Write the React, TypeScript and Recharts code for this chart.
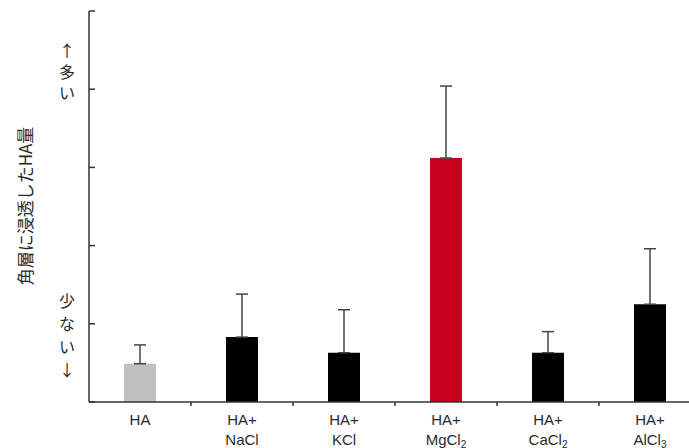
import React from 'react';
import { BarChart, Bar, XAxis, YAxis, ErrorBar, Cell } from 'recharts';

const labelTop = ['HA', 'HA+', 'HA+', 'HA+', 'HA+', 'HA+'];
const labelSalt = ['', 'NaCl', 'KCl', 'MgCl', 'CaCl', 'AlCl'];
const labelSub = ['', '', '', '2', '2', '3'];
const values = [0.49, 0.83, 0.63, 3.12, 0.63, 1.25];
const errors = [0.24, 0.55, 0.55, 0.92, 0.27, 0.71];
const colors = ['#c0c0c0', '#000000', '#000000', '#c8001e', '#000000', '#000000'];
const yTicks = [0, 1, 2, 3, 4, 5];

const data = values.map((v, i) => ({
  name: `${labelTop[i]}${labelSalt[i]}`,
  value: v,
  err: [0, errors[i]],
}));

const FONT = '"Liberation Sans", Arial, "Noto Sans CJK JP", sans-serif';
const JP = '"Noto Sans CJK JP", sans-serif';

function CategoryTick(props: any) {
  const { x, y, index, payload } = props;
  const half = payload && payload.offset ? payload.offset : 51;
  return (
    <g>
      {index < labelTop.length - 1 && (
        <line x1={x + half} x2={x + half} y1={y} y2={y + 4} stroke="#333" strokeWidth={1.5} />
      )}
      <text x={x} y={y + 23} textAnchor="middle" fill="#2a2a2a" fontFamily={FONT} fontSize={15}>
        {labelTop[index]}
      </text>
      {labelSalt[index] && (
        <text x={x} y={y + 43} textAnchor="middle" fill="#2a2a2a" fontFamily={FONT} fontSize={15}>
          {labelSalt[index]}
          {labelSub[index] && (
            <tspan fontSize={10} dy={3}>
              {labelSub[index]}
            </tspan>
          )}
        </text>
      )}
    </g>
  );
}

function ValueTick(props: any) {
  const { x, y } = props;
  return <line x1={x} x2={x + 6} y1={y} y2={y} stroke="#333" strokeWidth={1.5} />;
}

const upChars = ['↑', '多', 'い'];
const downChars = ['少', 'な', 'い', '↓'];

export default function App() {
  return (
    <div style={{ position: 'absolute', left: 0, top: 0, width: 689, height: 448, overflow: 'hidden', background: '#fff' }}>
      <BarChart
        width={701}
        height={448}
        data={data}
        margin={{ top: 11, right: 0, left: 0, bottom: 0 }}
        barSize={32}
      >
        <XAxis
          dataKey="name"
          interval={0}
          tick={<CategoryTick />}
          tickLine={false}
          tickSize={0}
          tickMargin={0}
          axisLine={{ stroke: '#333', strokeWidth: 1.5 }}
          height={46}
        />
        <YAxis
          type="number"
          domain={[0, 5]}
          ticks={yTicks}
          tick={<ValueTick />}
          tickLine={false}
          tickSize={0}
          tickMargin={0}
          axisLine={{ stroke: '#333', strokeWidth: 1.5 }}
          width={89}
        />
        <Bar dataKey="value" isAnimationActive={false}>
          {data.map((d, i) => (
            <Cell key={d.name} fill={colors[i]} />
          ))}
          <ErrorBar dataKey="err" width={6} stroke="#444" strokeWidth={1.5} isAnimationActive={false} />
        </Bar>
      </BarChart>
      <svg
        width={689}
        height={448}
        style={{ position: 'absolute', left: 0, top: 0, pointerEvents: 'none' }}
      >
        <text
          x={24}
          y={206}
          transform="rotate(-90 24 206)"
          textAnchor="middle"
          dominantBaseline="central"
          fontFamily={JP}
          fontSize={17}
          fill="#2a2a2a"
        >
          角層に浸透したHA量
        </text>
        {upChars.map((c, i) => (
          <text
            key={`u${i}`}
            x={67}
            y={50 + i * 21}
            textAnchor="middle"
            dominantBaseline="central"
            fontFamily={JP}
            fontSize={16}
            fill="#2a2a2a"
          >
            {c}
          </text>
        ))}
        {downChars.map((c, i) => (
          <text
            key={`d${i}`}
            x={67}
            y={300 + i * 23}
            textAnchor="middle"
            dominantBaseline="central"
            fontFamily={JP}
            fontSize={16}
            fill="#2a2a2a"
          >
            {c}
          </text>
        ))}
      </svg>
    </div>
  );
}
